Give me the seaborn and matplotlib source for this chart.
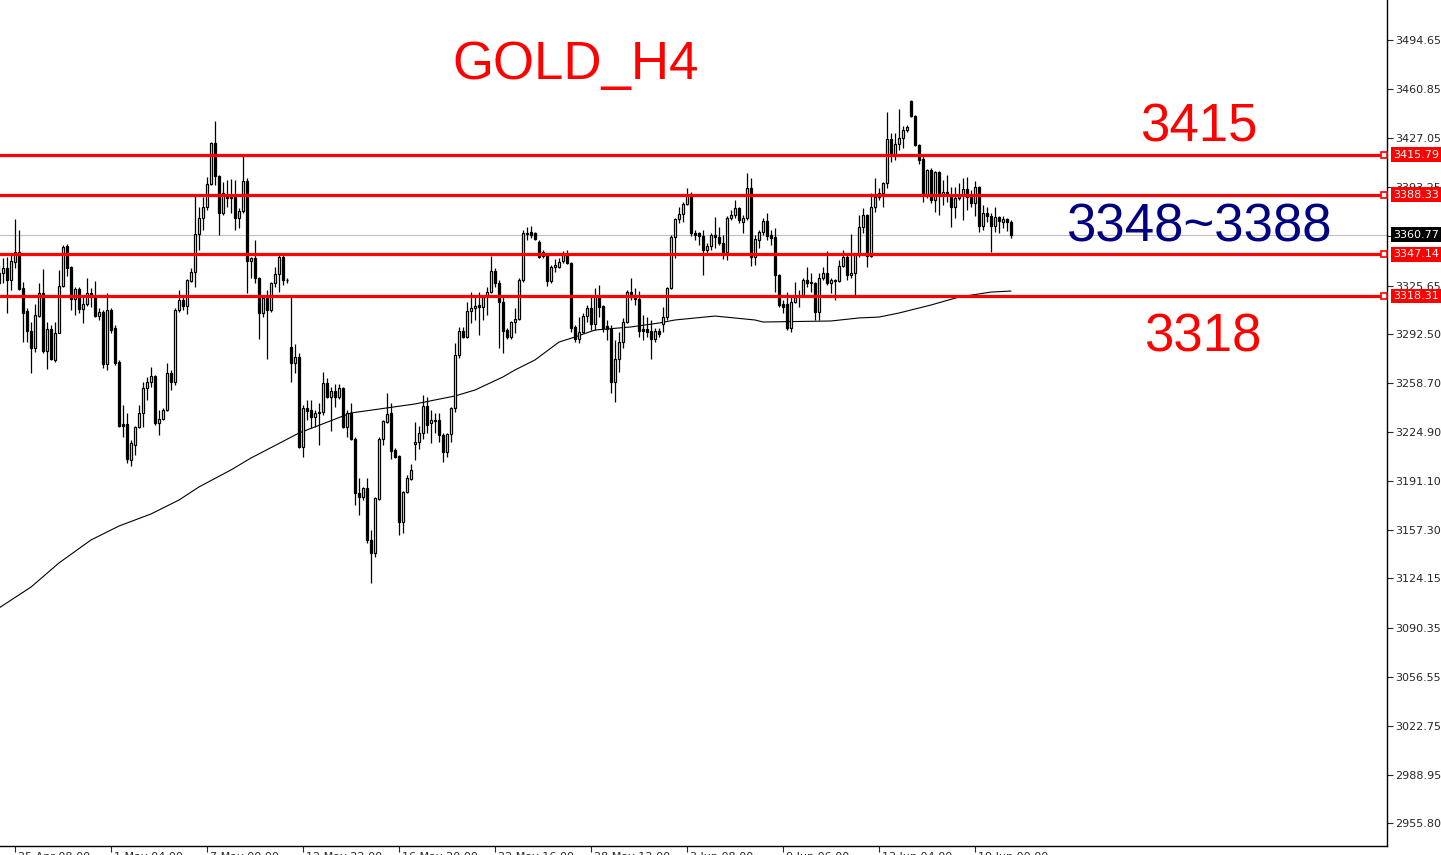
import numpy as np
import pandas as pd
import seaborn as sns
import matplotlib.pyplot as plt
from matplotlib.transforms import ScaledTranslation

# GOLD H4 candles (oldest first)
opens = [3327.5, 3334.4, 3337.8, 3329.6, 3341.9, 3348.8, 3324.1, 3308.2, 3294.5, 3282.8,
         3304.8, 3320.6, 3280.7, 3295.8, 3274.5, 3293.1, 3325.4, 3352.9, 3338.5, 3316.5,
         3323.4, 3309.6, 3313.1, 3320.6, 3317.9, 3304.8, 3307.5, 3271.8, 3308.9, 3296.5,
         3273.1, 3230.5, 3230.5, 3205.7, 3216.0, 3228.4, 3238.1, 3255.3, 3259.4, 3263.5,
         3231.2, 3233.9, 3240.1, 3265.6, 3259.4, 3308.9, 3315.8, 3311.7, 3328.9, 3335.1,
         3361.2, 3372.2, 3379.8, 3395.6, 3423.8, 3401.1, 3375.7, 3388.0, 3387.4, 3386.7,
         3372.2, 3377.0, 3397.7, 3342.6, 3344.7, 3330.9, 3306.9, 3317.2, 3308.9, 3327.5,
         3333.7, 3345.4, 3329.6, 3283.5, 3272.5, 3276.6, 3214.7, 3241.5, 3240.1, 3235.3,
         3238.1, 3238.4, 3258.7, 3249.1, 3253.2, 3249.1, 3255.3, 3228.4, 3238.1, 3220.2,
         3183.0, 3180.3, 3186.5, 3150.7, 3141.7, 3178.9, 3220.2, 3231.9, 3238.1, 3212.6,
         3208.5, 3163.1, 3183.7, 3192.6, 3216.7, 3218.1, 3224.3, 3242.9, 3231.2, 3233.2,
         3233.2, 3222.9, 3211.2, 3223.6, 3241.5, 3278.0, 3294.5, 3290.3, 3308.2, 3310.3,
         3312.4, 3311.0, 3317.9, 3321.3, 3335.8, 3327.5, 3314.4, 3295.2, 3290.3, 3300.6,
         3302.7, 3329.6, 3361.2, 3362.6, 3361.9, 3355.7, 3348.8, 3346.8, 3328.9, 3338.5,
         3338.5, 3342.6, 3346.8, 3341.3, 3297.2, 3289.0, 3293.8, 3304.8, 3310.3, 3299.3,
         3317.9, 3311.7, 3297.9, 3295.8, 3259.4, 3275.2, 3286.9, 3300.6, 3321.3, 3317.9,
         3316.5, 3295.8, 3295.8, 3294.5, 3289.0, 3294.5, 3299.3, 3304.1, 3324.1, 3359.1,
         3371.5, 3375.0, 3381.8, 3388.7, 3361.9, 3361.9, 3359.8, 3350.2, 3352.9, 3360.5,
         3359.1, 3355.0, 3348.8, 3372.2, 3374.3, 3379.1, 3369.5, 3372.2, 3392.9, 3345.4,
         3357.1, 3362.6, 3370.1, 3360.5, 3359.1, 3333.0, 3313.1, 3313.1, 3296.5, 3314.4,
         3317.9, 3319.2, 3329.6, 3327.5, 3327.5, 3307.5, 3330.9, 3334.4, 3327.5, 3329.6,
         3328.9, 3339.2, 3345.4, 3333.0, 3334.4, 3346.8, 3366.0, 3374.3, 3346.1, 3379.8,
         3386.7, 3389.4, 3396.3, 3426.6, 3415.6, 3423.1, 3427.2, 3432.8, 3452.7, 3442.4,
         3422.4, 3412.8, 3388.0, 3405.2, 3384.6, 3403.9, 3388.0, 3390.1, 3388.0, 3379.8,
         3386.0, 3388.0, 3392.2, 3386.7, 3382.5, 3393.5, 3366.7, 3375.7, 3373.6, 3366.7,
         3372.9, 3369.5, 3371.5, 3369.5]
highs = [3339.9, 3344.7, 3345.4, 3346.8, 3371.5, 3364.0, 3328.2, 3310.3, 3300.6, 3313.1,
         3327.5, 3337.1, 3300.6, 3298.6, 3300.6, 3336.4, 3353.6, 3354.3, 3339.2, 3324.7,
         3324.7, 3317.9, 3330.9, 3324.1, 3328.9, 3310.3, 3308.9, 3320.6, 3310.3, 3298.6,
         3274.5, 3243.6, 3238.1, 3219.5, 3229.1, 3243.6, 3259.4, 3262.8, 3269.7, 3264.2,
         3240.1, 3241.5, 3272.5, 3267.6, 3310.3, 3322.7, 3319.2, 3330.2, 3337.8, 3387.4,
         3379.8, 3386.7, 3400.4, 3424.5, 3439.0, 3401.8, 3397.0, 3398.4, 3399.0, 3398.4,
         3379.1, 3415.6, 3399.7, 3345.4, 3357.1, 3331.6, 3319.2, 3322.7, 3328.2, 3338.5,
         3346.8, 3346.8, 3330.9, 3317.9, 3285.5, 3279.3, 3243.6, 3247.0, 3247.0, 3240.1,
         3244.9, 3266.3, 3262.1, 3255.9, 3258.0, 3258.0, 3255.9, 3240.1, 3244.9, 3221.5,
         3193.3, 3187.1, 3193.3, 3157.6, 3180.3, 3221.5, 3233.2, 3251.8, 3244.9, 3213.9,
         3209.2, 3184.4, 3195.4, 3203.0, 3231.9, 3229.1, 3250.4, 3249.1, 3240.1, 3238.1,
         3238.1, 3224.3, 3224.3, 3242.2, 3286.2, 3297.2, 3297.2, 3314.4, 3321.3, 3317.9,
         3321.3, 3319.2, 3324.7, 3346.1, 3337.8, 3329.6, 3319.2, 3296.5, 3301.3, 3310.3,
         3330.9, 3364.0, 3366.0, 3366.7, 3362.6, 3357.1, 3350.2, 3348.1, 3339.9, 3344.0,
         3344.7, 3349.5, 3350.2, 3341.9, 3298.6, 3304.1, 3306.9, 3312.4, 3317.9, 3324.1,
         3326.1, 3312.4, 3302.0, 3298.6, 3288.3, 3293.8, 3303.4, 3322.7, 3330.9, 3324.1,
         3322.0, 3305.5, 3304.1, 3302.0, 3296.5, 3296.5, 3311.0, 3324.7, 3360.5, 3372.2,
         3379.8, 3383.2, 3392.9, 3390.1, 3364.0, 3362.6, 3364.0, 3355.0, 3361.9, 3372.9,
         3366.0, 3360.5, 3373.6, 3377.7, 3384.6, 3379.8, 3374.3, 3403.2, 3399.7, 3360.5,
         3364.0, 3372.2, 3375.7, 3364.0, 3365.3, 3333.7, 3315.8, 3321.3, 3317.9, 3328.2,
         3322.7, 3330.9, 3338.5, 3334.4, 3328.2, 3334.4, 3338.5, 3349.5, 3330.9, 3330.2,
         3343.3, 3350.2, 3348.1, 3361.2, 3348.1, 3374.3, 3379.1, 3375.0, 3389.4, 3399.7,
         3392.9, 3397.0, 3445.1, 3430.7, 3430.7, 3447.2, 3435.5, 3436.2, 3453.4, 3443.1,
         3423.1, 3415.6, 3405.9, 3406.6, 3404.5, 3404.5, 3398.4, 3401.8, 3393.5, 3393.5,
         3396.3, 3399.7, 3400.4, 3391.5, 3397.7, 3394.2, 3381.2, 3379.8, 3375.7, 3379.8,
         3373.6, 3373.6, 3372.2, 3370.8]
lows = [3326.1, 3327.5, 3306.9, 3322.7, 3337.8, 3322.7, 3286.9, 3286.9, 3265.6, 3280.0,
        3304.1, 3279.3, 3268.3, 3274.5, 3273.1, 3293.1, 3324.7, 3332.3, 3308.9, 3305.5,
        3306.9, 3299.9, 3311.7, 3311.0, 3304.1, 3302.0, 3269.0, 3267.6, 3293.1, 3271.1,
        3228.4, 3221.5, 3203.7, 3201.6, 3209.2, 3227.7, 3228.4, 3247.0, 3255.9, 3229.8,
        3222.9, 3233.2, 3239.4, 3253.9, 3257.3, 3307.5, 3308.9, 3306.2, 3328.2, 3324.7,
        3350.2, 3364.0, 3377.7, 3394.9, 3394.9, 3360.5, 3374.3, 3379.8, 3375.7, 3364.0,
        3365.3, 3375.7, 3320.6, 3330.9, 3327.5, 3289.0, 3304.1, 3275.2, 3307.5, 3324.7,
        3321.3, 3326.1, 3327.5, 3259.4, 3265.6, 3214.0, 3207.8, 3233.2, 3227.7, 3228.4,
        3216.0, 3236.7, 3248.4, 3225.7, 3242.2, 3247.7, 3227.7, 3221.5, 3219.5, 3174.8,
        3167.9, 3178.2, 3148.6, 3121.1, 3139.0, 3178.2, 3216.0, 3231.2, 3206.4, 3207.1,
        3154.1, 3155.5, 3183.0, 3191.8, 3205.7, 3213.0, 3220.2, 3224.3, 3217.4, 3224.3,
        3218.1, 3204.4, 3207.8, 3218.1, 3238.7, 3275.9, 3289.7, 3289.7, 3299.9, 3302.0,
        3291.7, 3302.0, 3305.5, 3320.6, 3324.7, 3282.8, 3279.3, 3289.0, 3289.0, 3293.1,
        3302.0, 3328.2, 3357.1, 3358.5, 3357.1, 3344.7, 3344.7, 3325.4, 3327.5, 3335.1,
        3337.8, 3341.3, 3340.6, 3293.8, 3286.9, 3286.2, 3293.1, 3300.6, 3295.2, 3295.2,
        3304.1, 3293.8, 3288.3, 3251.8, 3245.6, 3266.3, 3282.8, 3299.9, 3315.8, 3312.4,
        3290.3, 3288.3, 3290.3, 3275.2, 3286.9, 3290.3, 3293.8, 3302.0, 3323.4, 3344.7,
        3368.8, 3369.5, 3381.2, 3359.8, 3357.1, 3353.6, 3333.0, 3348.1, 3350.2, 3351.6,
        3353.6, 3344.0, 3343.3, 3370.8, 3372.2, 3368.8, 3361.9, 3370.8, 3339.2, 3339.9,
        3351.6, 3360.5, 3357.1, 3353.6, 3321.3, 3311.0, 3306.9, 3295.2, 3293.8, 3313.7,
        3311.0, 3317.9, 3324.7, 3321.3, 3302.0, 3302.0, 3329.6, 3326.1, 3320.6, 3315.8,
        3328.2, 3338.5, 3329.6, 3330.9, 3319.2, 3345.4, 3361.9, 3338.5, 3345.4, 3376.3,
        3384.6, 3379.8, 3392.9, 3410.7, 3412.1, 3419.0, 3420.4, 3431.4, 3441.7, 3421.7,
        3409.4, 3383.2, 3386.0, 3382.5, 3376.3, 3374.3, 3381.2, 3383.2, 3366.0, 3372.2,
        3384.6, 3370.8, 3377.7, 3379.8, 3373.6, 3362.6, 3364.0, 3369.5, 3348.8, 3362.6,
        3361.9, 3365.3, 3363.3, 3358.5]
closes = [3334.4, 3337.8, 3329.6, 3342.6, 3348.8, 3323.4, 3306.9, 3294.5, 3282.8, 3305.5,
          3320.6, 3280.7, 3295.8, 3275.2, 3293.1, 3325.4, 3352.3, 3337.8, 3316.5, 3323.4,
          3309.6, 3313.1, 3320.6, 3317.9, 3304.8, 3307.5, 3271.8, 3308.9, 3295.2, 3272.5,
          3229.1, 3229.1, 3206.4, 3217.4, 3228.4, 3238.1, 3255.3, 3259.4, 3263.5, 3231.2,
          3233.9, 3240.1, 3265.6, 3259.4, 3308.9, 3315.8, 3311.7, 3329.6, 3335.1, 3361.2,
          3372.2, 3379.8, 3395.6, 3423.8, 3401.1, 3375.7, 3389.4, 3386.0, 3386.0, 3372.2,
          3377.0, 3397.7, 3342.6, 3344.7, 3330.9, 3306.9, 3317.2, 3308.9, 3327.5, 3333.7,
          3345.4, 3329.6, 3329.2, 3272.5, 3276.6, 3214.7, 3241.5, 3239.4, 3235.3, 3238.1,
          3238.4, 3258.7, 3249.1, 3253.2, 3249.1, 3255.3, 3228.4, 3238.1, 3220.2, 3183.0,
          3180.3, 3186.5, 3150.7, 3141.7, 3179.6, 3220.2, 3232.5, 3237.4, 3211.9, 3207.8,
          3163.1, 3183.7, 3193.3, 3198.8, 3218.1, 3224.3, 3242.9, 3229.8, 3233.2, 3232.5,
          3222.9, 3211.2, 3223.6, 3241.5, 3278.0, 3294.5, 3290.3, 3308.2, 3310.3, 3311.7,
          3311.0, 3317.9, 3321.3, 3335.8, 3327.5, 3314.4, 3294.5, 3290.3, 3300.6, 3302.7,
          3329.6, 3361.9, 3361.9, 3360.5, 3357.8, 3345.4, 3346.1, 3328.9, 3338.5, 3339.9,
          3341.9, 3346.8, 3341.3, 3296.5, 3289.0, 3293.8, 3304.8, 3310.3, 3299.3, 3317.9,
          3311.0, 3296.5, 3295.8, 3259.4, 3275.2, 3286.9, 3300.6, 3321.3, 3317.9, 3316.5,
          3294.5, 3294.5, 3293.8, 3289.0, 3294.5, 3292.4, 3304.1, 3324.1, 3359.1, 3371.5,
          3375.0, 3381.8, 3388.0, 3361.9, 3360.5, 3359.8, 3350.2, 3352.9, 3360.5, 3359.1,
          3355.0, 3348.8, 3372.2, 3374.3, 3379.1, 3370.8, 3372.2, 3392.9, 3345.4, 3357.8,
          3362.6, 3370.1, 3359.8, 3358.5, 3333.0, 3312.4, 3311.0, 3296.5, 3314.4, 3317.9,
          3319.2, 3329.6, 3327.5, 3328.2, 3307.5, 3330.9, 3334.4, 3327.5, 3329.6, 3328.9,
          3339.2, 3345.4, 3333.0, 3334.4, 3346.8, 3366.0, 3374.3, 3346.1, 3379.8, 3386.7,
          3389.4, 3396.3, 3426.6, 3415.6, 3423.1, 3427.2, 3432.8, 3434.8, 3442.4, 3422.4,
          3412.1, 3388.0, 3405.2, 3384.6, 3403.9, 3388.0, 3390.1, 3388.0, 3379.8, 3386.0,
          3388.0, 3392.2, 3386.7, 3382.5, 3393.5, 3366.7, 3375.7, 3373.6, 3366.7, 3372.9,
          3370.1, 3371.5, 3369.5, 3360.77]

# moving average, read every few bars
ma_bars = [0, 8, 15, 23, 30, 38, 45, 50, 58, 63, 75, 88, 95, 104, 114, 119, 126, 129,
           134, 138, 140, 144, 149, 158, 165, 169, 179, 189, 191, 208, 215, 220, 225,
           233, 240, 248, 253]
ma_values = [3103.8, 3118.2, 3134.8, 3150.6, 3160.2, 3168.5, 3178.1, 3187.1, 3198.8,
             3207.0, 3224.2, 3238.0, 3240.7, 3244.2, 3249.7, 3253.8, 3262.8, 3267.6,
             3274.5, 3282.7, 3286.8, 3290.3, 3295.1, 3297.2, 3299.9, 3302.0, 3304.7,
             3302.0, 3300.6, 3301.3, 3303.4, 3304.0, 3306.8, 3312.3, 3317.8, 3321.2,
             3321.9]

levels = [3415.79, 3388.33, 3347.14, 3318.31]
last_price = 3360.77

price_ticks = [3494.65, 3460.85, 3427.05, 3393.25, 3359.45, 3325.65, 3292.50, 3258.70,
               3224.90, 3191.10, 3157.30, 3124.15, 3090.35, 3056.55, 3022.75, 2988.95,
               2955.80]
date_ticks = [4, 28, 52, 76, 100, 124, 148, 172, 196, 220, 244]
date_labels = ['25 Apr 08:00', '1 May 04:00', '7 May 00:00', '12 May 22:00',
               '16 May 20:00', '22 May 16:00', '28 May 12:00', '3 Jun 08:00',
               '9 Jun 06:00', '13 Jun 04:00', '19 Jun 00:00']

sns.set_style('white')
plt.rcParams['font.family'] = ['DejaVu Sans']

W, H = 1441, 855
fig = plt.figure(figsize=(W / 100, H / 100), dpi=100)
ax = fig.add_axes([0, 1 - 846 / H, 1387 / W, 846 / H])

df = pd.DataFrame({'open': opens, 'high': highs, 'low': lows, 'close': closes})
df['bar'] = np.arange(len(df))
up = df['close'] >= df['open']
body_lo = df[['open', 'close']].min(axis=1)
body_h = (df['close'] - df['open']).abs()

ax.axhline(last_price, color='#c0c0c0', lw=0.8, zorder=1)
sns.lineplot(x=ma_bars, y=ma_values, color='black', lw=0.8, ax=ax, zorder=2)
ax.vlines(df['bar'], df['low'], df['high'], color='black', lw=0.9, zorder=3)
ax.bar(df['bar'], body_h, bottom=body_lo, width=0.62,
       color=np.where(up, 'white', 'black'), edgecolor='black', linewidth=0.9, zorder=4)

for lv in levels:
    ax.axhline(lv, color='red', lw=2.3, zorder=5)

ax.set_xlim(0.25, 347)
ax.set_ylim(2940.0, 3522.2)

ax.yaxis.tick_right()
ax.set_yticks(price_ticks)
ax.set_yticklabels([f'{p:.2f}' for p in price_ticks])
ax.tick_params(axis='y', direction='out', length=4, width=0.8, pad=2, labelsize=8,
               right=True, left=False)
ax.set_xticks(date_ticks)
ax.set_xticklabels(date_labels, ha='left')
ax.tick_params(axis='x', direction='out', length=4, width=0.8, pad=0, labelsize=8,
               bottom=True)
for lbl in ax.get_xticklabels():
    lbl.set_transform(lbl.get_transform() + ScaledTranslation(3 / 100, 0, fig.dpi_scale_trans))

for side in ['left', 'top']:
    ax.spines[side].set_visible(False)
for side in ['right', 'bottom']:
    ax.spines[side].set_color('black')
    ax.spines[side].set_linewidth(1.0)
ax.set_xlabel('')
ax.set_ylabel('')

# price boxes on the scale
ytr = ax.get_yaxis_transform()
for lv in levels:
    ax.text(1 + 6 / 1387, lv, f'{lv:.2f}', transform=ytr, ha='left', va='center',
            fontsize=8, color='white', zorder=10, clip_on=False,
            bbox=dict(boxstyle='square,pad=0.2', fc='red', ec='none'))
    ax.plot([1 - 3 / 1387], [lv], transform=ytr, marker='s', ms=4, mfc='white',
            mec='red', mew=1.2, clip_on=False, zorder=10)
ax.text(1 + 6 / 1387, last_price, f'{last_price:.2f}', transform=ytr, ha='left',
        va='center', fontsize=8, color='white', zorder=10, clip_on=False,
        bbox=dict(boxstyle='square,pad=0.2', fc='black', ec='none'))

big = dict(family='Liberation Sans', fontsize=38, ha='center', va='baseline')
fig.text(576 / W, 1 - 79 / H, 'GOLD_H4', color='red', **big)
fig.text(1199 / W, 1 - 141 / H, '3415', color='red', **big)
fig.text(1199 / W, 1 - 241 / H, '3348~3388', color='#000080', **big)
fig.text(1203 / W, 1 - 351 / H, '3318', color='red', **big)

fig.savefig('out.png', dpi=100)
